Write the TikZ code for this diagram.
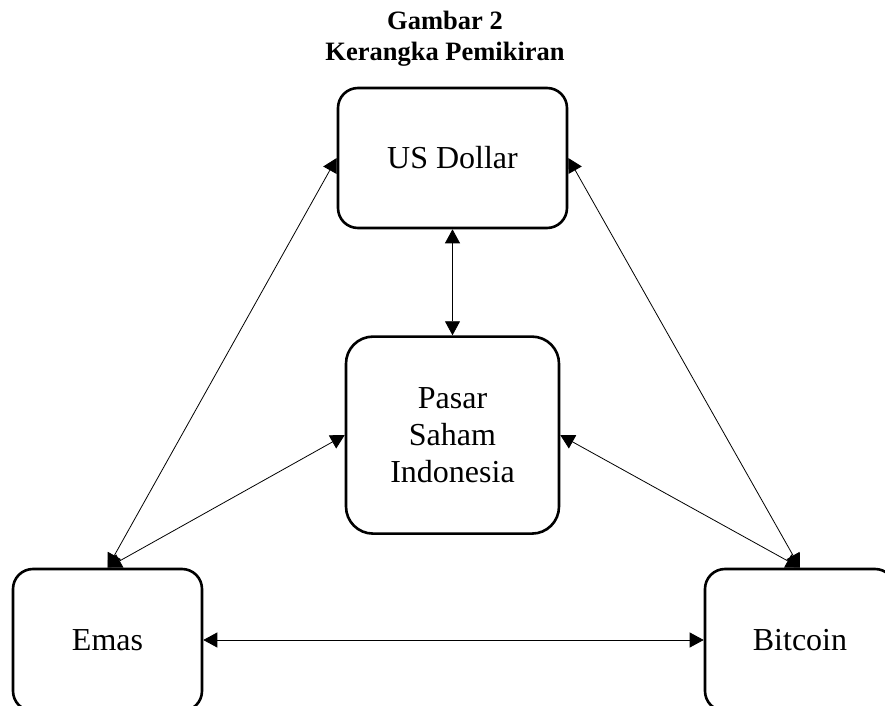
\documentclass[tikz,border=0pt]{standalone}
\usepackage{fontspec}
\setmainfont{Liberation Serif}
\usetikzlibrary{arrows.meta,positioning,backgrounds}

\begin{document}
\begin{tikzpicture}[x=0.5pt,y=-0.5pt, line width=0.65pt,
    >={Triangle[length=7pt,width=7.5pt]},
    kotak/.style={draw, line width=1.3pt, fill=white, rounded corners=10pt,
      align=center, inner sep=0pt, font=\fontsize{16}{18.3}\selectfont},
    judul/.style={anchor=base, inner sep=0pt,
      font=\fontsize{13.25}{15.5}\selectfont\bfseries}]
          \useasboundingbox (0,0) rectangle (885,706);
          \clip (0,0) rectangle (885,706);

          \node[judul] (judul1) at (445,30) {Gambar 2};
          \node[judul] (judul2) at (445,61) {Kerangka Pemikiran};

          \node[kotak, minimum width=114.5pt, minimum height=70pt] (usd) at (452.5,158) {US Dollar};
          \node[kotak, minimum width=106.5pt, minimum height=98.5pt, rounded corners=13.5pt]
                (pasar) [below=53pt of usd] {Pasar\\Saham\\Indonesia};
          \node[kotak, minimum width=94.5pt, minimum height=71pt] (emas) at (107.5,640) {Emas};
          \node[kotak, minimum width=95pt, minimum height=71pt] (btc) at (800,640) {Bitcoin};

          \begin{pgfonlayer}{background}
          \path[<->]
                    (usd.south)  edge (pasar.north)
                    (usd.west)   edge (emas.north)
                    (usd.east)   edge (btc.north)
                    (pasar.west) edge (emas.north)
                    (pasar.east) edge (btc.north)
                    (emas.east)  edge (btc.west)
            ;
          \end{pgfonlayer}
        \end{tikzpicture}
\end{document}
